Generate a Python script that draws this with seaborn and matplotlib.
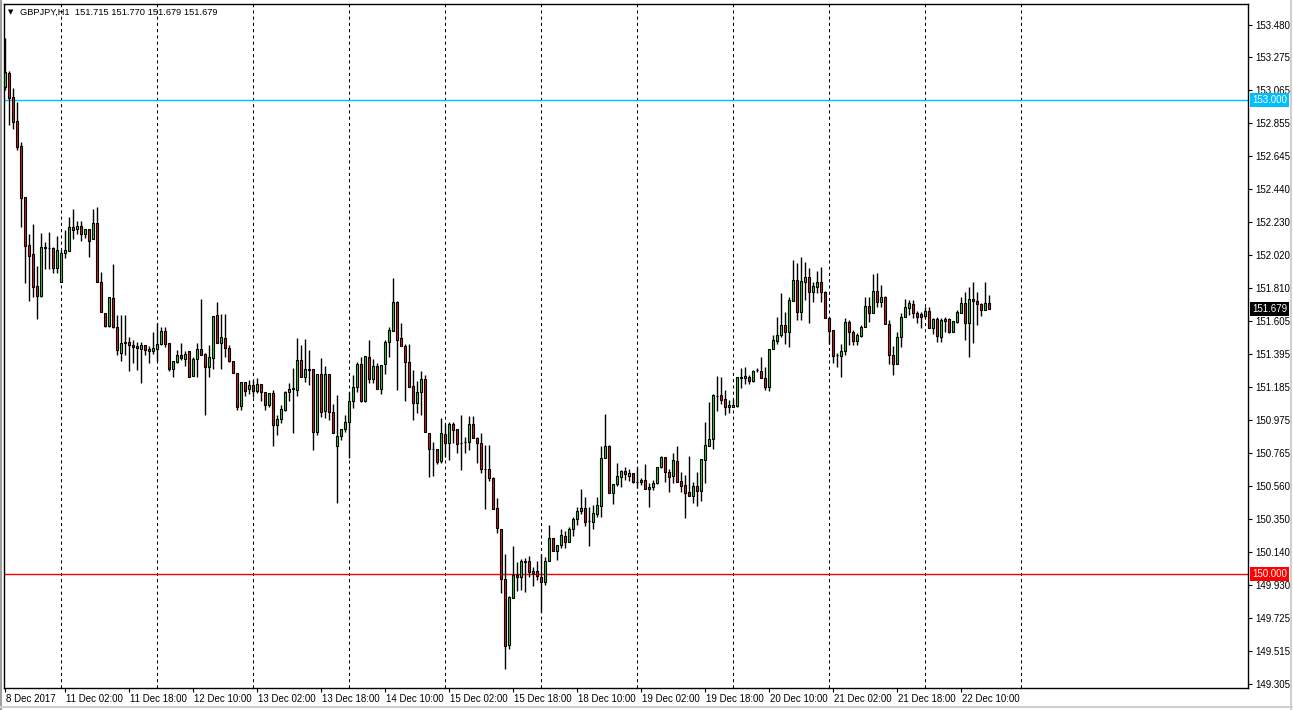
import numpy as np
import pandas as pd
import matplotlib
matplotlib.use("Agg")
import matplotlib.pyplot as plt
import matplotlib.transforms as mtransforms
from matplotlib.lines import Line2D
import seaborn as sns

# ---------------- data (GBPJPY H1) ----------------
opens = [
    153.084, 153.173, 153.021, 152.869, 152.711, 152.388, 152.084, 152.027, 151.824, 151.761,
    152.065, 152.068, 152.063, 151.940, 151.852, 152.031, 152.048, 152.196, 152.185, 152.202,
    152.156, 152.183, 152.120, 152.225, 151.848, 151.653, 151.573, 151.750, 151.565, 151.402,
    151.470, 151.470, 151.451, 151.445, 151.427, 151.449, 151.413, 151.415, 151.427, 151.455,
    151.539, 151.465, 151.301, 151.345, 151.386, 151.364, 151.413, 151.256, 151.364, 151.424,
    151.394, 151.313, 151.370, 151.641, 151.462, 151.493, 151.430, 151.350, 151.272, 151.065,
    151.215, 151.170, 151.198, 151.160, 151.202, 151.153, 151.073, 151.145, 150.946, 150.980,
    151.039, 151.151, 151.170, 151.166, 151.356, 151.246, 151.299, 151.299, 150.902, 151.265,
    151.035, 151.265, 151.029, 150.813, 150.875, 150.917, 150.961, 151.096, 151.187, 151.329,
    151.094, 151.373, 151.237, 151.316, 151.170, 151.329, 151.472, 151.541, 151.723, 151.493,
    151.446, 151.341, 151.189, 151.082, 151.155, 151.234, 150.892, 150.790, 150.790, 150.718,
    150.885, 150.832, 150.949, 150.917, 150.828, 150.835, 150.835, 150.949, 150.860, 150.828,
    150.668, 150.664, 150.607, 150.417, 150.286, 149.967, 149.551, 149.851, 149.995, 149.980,
    150.079, 150.085, 150.009, 150.022, 149.980, 149.952, 150.085, 150.227, 150.148, 150.187,
    150.242, 150.206, 150.284, 150.349, 150.402, 150.419, 150.337, 150.332, 150.381, 150.433,
    150.733, 150.811, 150.516, 150.569, 150.617, 150.653, 150.623, 150.639, 150.585, 150.585,
    150.596, 150.554, 150.550, 150.575, 150.677, 150.740, 150.645, 150.623, 150.718, 150.590,
    150.564, 150.518, 150.495, 150.558, 150.528, 150.723, 150.813, 150.854, 151.128, 151.134,
    151.107, 151.056, 151.060, 151.066, 151.240, 151.240, 151.250, 151.223, 151.293, 151.288,
    151.240, 151.183, 151.424, 151.478, 151.514, 151.577, 151.535, 151.731, 151.862, 151.662,
    151.852, 151.879, 151.788, 151.820, 151.848, 151.785, 151.624, 151.546, 151.386, 151.383,
    151.413, 151.598, 151.531, 151.478, 151.510, 151.563, 151.698, 151.655, 151.793, 151.725,
    151.755, 151.582, 151.388, 151.329, 151.500, 151.630, 151.683, 151.710, 151.655, 151.647,
    151.636, 151.666, 151.560, 151.614, 151.503, 151.605, 151.614, 151.535, 151.598, 151.655,
    151.719, 151.592, 151.742, 151.729, 151.710, 151.672, 151.715,
]
highs = [
    153.394, 153.185, 153.078, 152.989, 152.736, 152.388, 152.154, 152.217, 151.951, 152.160,
    152.103, 152.166, 152.073, 152.141, 152.052, 152.179, 152.263, 152.310, 152.236, 152.234,
    152.183, 152.183, 152.310, 152.325, 151.911, 151.653, 151.757, 151.962, 151.641, 151.641,
    151.641, 151.503, 151.482, 151.472, 151.472, 151.449, 151.445, 151.531, 151.588, 151.567,
    151.567, 151.465, 151.350, 151.419, 151.462, 151.413, 151.413, 151.377, 151.462, 151.742,
    151.398, 151.449, 151.636, 151.725, 151.645, 151.645, 151.451, 151.350, 151.272, 151.215,
    151.215, 151.229, 151.229, 151.240, 151.202, 151.153, 151.145, 151.166, 151.008, 151.071,
    151.160, 151.208, 151.303, 151.493, 151.451, 151.487, 151.419, 151.299, 151.265, 151.367,
    151.318, 151.265, 151.075, 151.134, 150.917, 151.008, 151.151, 151.261, 151.345, 151.377,
    151.381, 151.482, 151.360, 151.337, 151.322, 151.481, 151.563, 151.877, 151.729, 151.588,
    151.457, 151.457, 151.293, 151.223, 151.286, 151.261, 150.892, 150.839, 150.790, 150.987,
    150.949, 150.965, 150.965, 150.917, 151.008, 150.870, 151.003, 151.003, 150.870, 150.892,
    150.820, 150.818, 150.617, 150.480, 150.286, 150.128, 149.862, 150.178, 150.079, 150.094,
    150.100, 150.117, 150.047, 150.085, 150.128, 150.111, 150.311, 150.227, 150.185, 150.284,
    150.275, 150.300, 150.360, 150.427, 150.539, 150.490, 150.427, 150.438, 150.490, 150.811,
    151.014, 150.818, 150.569, 150.702, 150.659, 150.680, 150.664, 150.639, 150.680, 150.607,
    150.697, 150.575, 150.596, 150.680, 150.750, 150.740, 150.666, 150.765, 150.811, 150.645,
    150.628, 150.748, 150.585, 150.649, 150.727, 150.961, 151.092, 151.141, 151.255, 151.248,
    151.166, 151.103, 151.107, 151.246, 151.303, 151.313, 151.261, 151.293, 151.303, 151.373,
    151.313, 151.424, 151.514, 151.630, 151.778, 151.662, 151.757, 151.989, 151.972, 152.010,
    151.978, 151.936, 151.852, 151.921, 151.943, 151.795, 151.630, 151.546, 151.400, 151.455,
    151.620, 151.609, 151.546, 151.525, 151.577, 151.753, 151.753, 151.898, 151.905, 151.831,
    151.763, 151.609, 151.445, 151.535, 151.651, 151.740, 151.736, 151.736, 151.668, 151.662,
    151.689, 151.693, 151.620, 151.626, 151.620, 151.626, 151.620, 151.605, 151.672, 151.757,
    151.788, 151.816, 151.852, 151.788, 151.715, 151.852, 151.770,
]
lows = [
    153.065, 152.844, 152.818, 152.685, 152.198, 151.843, 151.729, 151.755, 151.615, 151.755,
    151.932, 151.932, 151.905, 151.905, 151.852, 151.999, 152.048, 152.120, 152.156, 152.109,
    152.126, 152.008, 152.120, 151.848, 151.658, 151.565, 151.567, 151.560, 151.388, 151.350,
    151.388, 151.288, 151.335, 151.293, 151.212, 151.388, 151.339, 151.394, 151.350, 151.449,
    151.440, 151.288, 151.250, 151.335, 151.356, 151.318, 151.250, 151.256, 151.250, 151.386,
    151.008, 151.250, 151.297, 151.462, 151.297, 151.377, 151.343, 151.272, 151.039, 151.039,
    151.128, 151.141, 151.124, 151.149, 151.098, 151.039, 151.060, 150.811, 150.883, 150.955,
    151.035, 151.098, 150.896, 151.128, 151.250, 151.218, 151.198, 150.786, 150.881, 150.997,
    150.987, 150.976, 150.892, 150.452, 150.849, 150.902, 150.733, 151.050, 151.155, 151.092,
    151.090, 151.208, 151.208, 151.170, 151.141, 151.267, 151.373, 151.541, 151.168, 151.446,
    151.098, 151.183, 150.976, 151.018, 151.008, 150.898, 150.613, 150.623, 150.696, 150.702,
    150.744, 150.723, 150.828, 150.765, 150.659, 150.765, 150.786, 150.860, 150.702, 150.642,
    150.414, 150.592, 150.414, 150.263, 149.879, 149.398, 149.524, 149.851, 149.893, 149.900,
    149.889, 149.980, 149.927, 149.963, 149.758, 149.931, 150.085, 150.148, 150.090, 150.164,
    150.164, 150.202, 150.243, 150.311, 150.381, 150.305, 150.180, 150.286, 150.360, 150.364,
    150.733, 150.516, 150.444, 150.558, 150.554, 150.596, 150.590, 150.579, 150.544, 150.564,
    150.537, 150.427, 150.533, 150.569, 150.670, 150.585, 150.522, 150.575, 150.585, 150.522,
    150.354, 150.495, 150.452, 150.431, 150.463, 150.575, 150.811, 150.791, 151.033, 151.075,
    151.008, 151.022, 151.060, 151.056, 151.180, 151.204, 151.204, 151.215, 151.282, 151.240,
    151.166, 151.161, 151.424, 151.455, 151.500, 151.457, 151.440, 151.731, 151.609, 151.609,
    151.736, 151.588, 151.725, 151.778, 151.725, 151.624, 151.457, 151.335, 151.313, 151.251,
    151.388, 151.451, 151.451, 151.449, 151.503, 151.563, 151.598, 151.655, 151.693, 151.693,
    151.582, 151.331, 151.261, 151.329, 151.440, 151.626, 151.641, 151.620, 151.588, 151.557,
    151.620, 151.557, 151.520, 151.472, 151.472, 151.535, 151.529, 151.535, 151.588, 151.655,
    151.482, 151.377, 151.465, 151.577, 151.635, 151.672, 151.679,
]
closes = [
    153.179, 153.015, 152.863, 152.704, 152.381, 152.078, 152.014, 151.818, 151.761, 152.071,
    152.071, 152.065, 151.936, 152.052, 152.035, 152.052, 152.200, 152.181, 152.202, 152.156,
    152.183, 152.111, 152.225, 151.848, 151.658, 151.571, 151.757, 151.563, 151.419, 151.465,
    151.462, 151.449, 151.438, 151.430, 151.449, 151.417, 151.424, 151.432, 151.457, 151.539,
    151.457, 151.301, 151.350, 151.386, 151.369, 151.392, 151.250, 151.364, 151.424, 151.386,
    151.313, 151.373, 151.636, 151.462, 151.501, 151.430, 151.348, 151.272, 151.060, 151.215,
    151.161, 151.198, 151.160, 151.202, 151.153, 151.069, 151.145, 150.946, 150.980, 151.044,
    151.151, 151.172, 151.177, 151.356, 151.250, 151.297, 151.295, 150.902, 151.265, 151.029,
    151.265, 151.029, 150.892, 150.875, 150.917, 150.961, 151.098, 151.187, 151.329, 151.098,
    151.381, 151.237, 151.316, 151.170, 151.322, 151.472, 151.544, 151.723, 151.484, 151.446,
    151.341, 151.183, 151.082, 151.155, 151.234, 150.898, 150.790, 150.790, 150.712, 150.892,
    150.832, 150.949, 150.913, 150.822, 150.828, 150.835, 150.949, 150.860, 150.828, 150.664,
    150.668, 150.607, 150.414, 150.290, 149.967, 149.547, 149.857, 149.995, 149.980, 150.083,
    150.085, 150.012, 150.022, 149.988, 149.952, 150.083, 150.227, 150.148, 150.185, 150.246,
    150.202, 150.286, 150.349, 150.400, 150.419, 150.332, 150.337, 150.385, 150.438, 150.733,
    150.811, 150.516, 150.569, 150.622, 150.653, 150.632, 150.639, 150.585, 150.585, 150.596,
    150.537, 150.539, 150.575, 150.677, 150.740, 150.649, 150.617, 150.723, 150.585, 150.560,
    150.516, 150.495, 150.558, 150.528, 150.727, 150.816, 150.854, 151.134, 151.128, 151.101,
    151.056, 151.071, 151.071, 151.246, 151.248, 151.255, 151.225, 151.288, 151.293, 151.240,
    151.183, 151.424, 151.482, 151.514, 151.577, 151.535, 151.736, 151.862, 151.662, 151.856,
    151.879, 151.788, 151.824, 151.848, 151.785, 151.624, 151.541, 151.383, 151.386, 151.413,
    151.598, 151.531, 151.478, 151.514, 151.567, 151.698, 151.655, 151.793, 151.725, 151.755,
    151.582, 151.388, 151.329, 151.500, 151.630, 151.690, 151.715, 151.651, 151.630, 151.630,
    151.666, 151.560, 151.614, 151.508, 151.609, 151.614, 151.535, 151.603, 151.662, 151.719,
    151.588, 151.742, 151.729, 151.708, 151.672, 151.719, 151.679,
]

price_ticks = [153.480, 153.275, 153.065, 152.855, 152.645, 152.440, 152.230, 152.020,
               151.810, 151.605, 151.395, 151.185, 150.975, 150.765, 150.560, 150.350,
               150.140, 149.930, 149.725, 149.515, 149.305]
date_labels = ["8 Dec 2017", "11 Dec 02:00", "11 Dec 18:00", "12 Dec 10:00", "13 Dec 02:00",
               "13 Dec 18:00", "14 Dec 10:00", "15 Dec 02:00", "15 Dec 18:00", "18 Dec 10:00",
               "19 Dec 02:00", "19 Dec 18:00", "20 Dec 10:00", "21 Dec 02:00", "21 Dec 18:00",
               "22 Dec 10:00"]
label_bars = [0, 15, 31, 47, 63, 79, 95, 111, 127, 143, 159, 175, 191, 207, 223, 239]
separator_bars = [14, 38, 62, 86, 110, 134, 158, 182, 206, 230, 254]
level_high = 153.000
level_low = 150.000
last_price = 151.679
header = "GBPJPY,H1  151.715 151.770 151.679 151.679"

# ---------------- style ----------------
sns.set_theme(style="white")
plt.rcParams['font.family'] = ['Liberation Sans', 'DejaVu Sans']

W, H = 1293, 710
fig = plt.figure(figsize=(W / 100, H / 100), dpi=100)
fig.patch.set_facecolor("white")
ax = fig.add_axes([4 / W, 1 - 688 / H, 1244 / W, 684 / H])
ax.set_facecolor("white")

df = pd.DataFrame({"open": opens, "high": highs, "low": lows, "close": closes})
df["bar"] = np.arange(len(df))
df["bottom"] = df[["open", "close"]].min(axis=1)
df["height"] = (df["close"] - df["open"]).abs()
bull, bear = "#2ed12e", "#d42020"
df["color"] = np.where(df["close"] > df["open"], bull, bear)

# grid separators
for b in separator_bars:
    ax.axvline(b, color="black", lw=0.75, ls=(0, (3, 3)), zorder=1)

# level lines
ax.axhline(level_high, color="#00bfff", lw=1, zorder=2)
ax.axhline(level_low, color="#ff0000", lw=1, zorder=2)

# candles
ax.vlines(df["bar"], df["low"], df["high"], color="black", lw=1, zorder=3)
ax.bar(df["bar"], df["height"], bottom=df["bottom"], width=0.5,
       color=df["color"], edgecolor="black", linewidth=0.8, zorder=4)

ax.set_xlim(-0.325, 310.7)
ax.set_ylim(149.279, 153.610)

# y axis on right
ax.yaxis.tick_right()
ax.set_yticks(price_ticks)
ax.set_yticklabels([f"{p:.3f}" for p in price_ticks])
ax.tick_params(axis="y", which="both", left=False, right=True, labelleft=False,
               labelright=True, length=3, width=0.8, pad=2, labelsize=7,
               direction="out", colors="black")

# x axis
ax.set_xticks(label_bars)
ax.set_xticklabels(date_labels, ha="left")
ax.tick_params(axis="x", length=3, width=0.8, pad=1.5, labelsize=7,
               direction="out", colors="black", bottom=True)
for lab in ax.get_xticklabels():
    lab.set_transform(lab.get_transform() + mtransforms.ScaledTranslation(1 / 100, 0, fig.dpi_scale_trans))

for s in ax.spines.values():
    s.set_color("black")
    s.set_linewidth(1)
ax.grid(False)

# price boxes on the right axis
box_tr = mtransforms.offset_copy(ax.get_yaxis_transform(), fig=fig, x=4, y=0, units="dots")
for val, col in [(level_high, "#00bfff"), (level_low, "#ff0000"), (last_price, "#000000")]:
    ax.text(1.0, val, f"{val:.3f}", transform=box_tr, ha="left", va="center",
            fontsize=7, color="white", clip_on=False, zorder=10,
            bbox=dict(boxstyle="square,pad=0.22", fc=col, ec="none"))

# header
fig.text(8 / W, 1 - 12 / H, "\u25bc", fontsize=5, va="center", ha="left",
         family=["DejaVu Sans"], color="black")
fig.text(20 / W, 1 - 12 / H, header, fontsize=6.7, va="center", ha="left", color="black")

# window frame
frame_col = "#a0a0a0"
fig.add_artist(Line2D([1 / W, 1 / W], [0, 1], color=frame_col, lw=1.5, transform=fig.transFigure))
fig.add_artist(Line2D([1291 / W, 1291 / W], [0, 1], color="#d0d0d0", lw=1.5, transform=fig.transFigure))
fig.add_artist(Line2D([0, 1], [1 - 707 / H, 1 - 707 / H], color="#d0d0d0", lw=1.5, transform=fig.transFigure))

fig.savefig("out.png", dpi=100)
